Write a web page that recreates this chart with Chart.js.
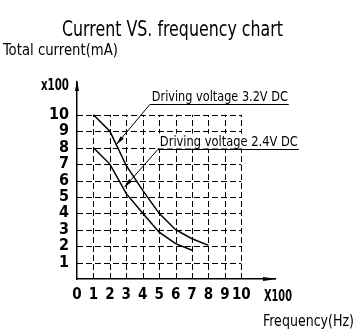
<!DOCTYPE html>
<html>
<head>
<meta charset="utf-8">
<script src="https://cdn.jsdelivr.net/npm/chart.js@4.4.1/dist/chart.umd.min.js"></script>
<style>
  html, body { margin: 0; padding: 0; background: #fff; }
  #wrap { width: 355px; height: 335px; }
</style>
</head>
<body>
<div id="wrap"><canvas id="chart"></canvas></div>
<script>
// values (x100 Hz / x100 mA)
const freq32 = [1, 2, 3, 4, 5, 6, 7, 8];
const current32 = [10, 9, 6.9, 5.4, 4, 3, 2.45, 2.05];
const freq24 = [1, 2, 3, 4, 5, 6, 7];
const current24 = [8, 7, 5.2, 4, 2.85, 2.15, 1.75];
const gridValues = [1, 2, 3, 4, 5, 6, 7, 8, 9, 10];

const FONT = '"DejaVu Sans Condensed", "DejaVu Sans", sans-serif';

// callout label, its underline start (data units) and the point its arrow hits
const notes = [
    { text: 'Driving voltage 3.2V DC', at: [4.43, 10.68], tip: [2.4, 8.2], width: 138 },
    { text: 'Driving voltage 2.4V DC', at: [4.92, 7.91], tip: [2.9, 5.6], width: 140 }
];

const toPoints = (xs, ys) => xs.map((x, i) => ({ x: x, y: ys[i] }));

// draw text squeezed horizontally to a given width (the original face is very narrow)
function fitText(ctx, text, x, y, width) {
    const w = ctx.measureText(text).width;
    ctx.save();
    ctx.translate(x, y);
    ctx.scale(width / w, 1);
    ctx.fillText(text, 0, 0);
    ctx.restore();
}

const decorations = {
    id: 'decorations',
    beforeDatasetsDraw(chart) {
        const ctx = chart.ctx;
        const x = chart.scales.x, y = chart.scales.y;
        ctx.save();
        ctx.strokeStyle = '#000';
        ctx.lineWidth = 1;
        ctx.setLineDash([6, 3]);
        gridValues.forEach(v => {
            const gx = Math.round(x.getPixelForValue(v)) + 0.5;
            ctx.beginPath();
            ctx.moveTo(gx, y.getPixelForValue(0));
            ctx.lineTo(gx, y.getPixelForValue(10));
            ctx.stroke();
            const gy = Math.round(y.getPixelForValue(v)) + 0.5;
            ctx.beginPath();
            ctx.moveTo(x.getPixelForValue(0), gy);
            ctx.lineTo(x.getPixelForValue(10), gy);
            ctx.stroke();
        });
        ctx.restore();
    },
    afterDraw(chart) {
        const ctx = chart.ctx;
        const x = chart.scales.x, y = chart.scales.y;
        const area = chart.chartArea;
        ctx.save();
        ctx.fillStyle = '#000';
        ctx.strokeStyle = '#000';

        // axis arrow heads
        ctx.beginPath();
        ctx.moveTo(area.left, area.top - 2);
        ctx.lineTo(area.left - 2, area.top + 9);
        ctx.lineTo(area.left + 2, area.top + 9);
        ctx.closePath();
        ctx.fill();
        ctx.beginPath();
        ctx.moveTo(area.right + 2, area.bottom);
        ctx.lineTo(area.right - 12, area.bottom - 2);
        ctx.lineTo(area.right - 12, area.bottom + 2);
        ctx.closePath();
        ctx.fill();

        // texts
        ctx.textBaseline = 'alphabetic';
        ctx.textAlign = 'left';
        ctx.font = '21px ' + FONT;
        fitText(ctx, 'Current VS. frequency chart', 62, 36, 221);
        ctx.font = '16px ' + FONT;
        fitText(ctx, 'Total current(mA)', 3, 55, 115);
        ctx.font = 'bold 15px ' + FONT;
        fitText(ctx, 'x100', 41, 90, 28);
        fitText(ctx, 'X100', 264, 301, 28);
        ctx.font = '16px ' + FONT;
        fitText(ctx, 'Frequency(Hz)', 263, 326, 91);

        // callouts
        ctx.font = '14px ' + FONT;
        ctx.lineWidth = 1;
        notes.forEach(n => {
            const tx = x.getPixelForValue(n.at[0]);
            const ty = Math.round(y.getPixelForValue(n.at[1])) + 0.5;
            ctx.fillStyle = '#fff';
            ctx.fillRect(tx + 1, ty - 16, n.width, 15);
            ctx.fillStyle = '#000';
            fitText(ctx, n.text, tx + 2, ty - 4, n.width - 2);
            ctx.beginPath();
            ctx.moveTo(tx, ty);
            ctx.lineTo(tx + n.width + 1, ty);
            ctx.stroke();
            const px = x.getPixelForValue(n.tip[0]);
            const py = y.getPixelForValue(n.tip[1]);
            ctx.beginPath();
            ctx.moveTo(tx, ty);
            ctx.lineTo(px, py);
            ctx.stroke();
            const ang = Math.atan2(py - ty, px - tx);
            ctx.beginPath();
            ctx.moveTo(px, py);
            ctx.lineTo(px - 9 * Math.cos(ang) + 2 * Math.sin(ang), py - 9 * Math.sin(ang) - 2 * Math.cos(ang));
            ctx.lineTo(px - 9 * Math.cos(ang) - 2 * Math.sin(ang), py - 9 * Math.sin(ang) + 2 * Math.cos(ang));
            ctx.closePath();
            ctx.fill();
        });
        ctx.restore();
    }
};

new Chart(document.getElementById('chart'), {
    type: 'line',
    data: {
        datasets: [
            {
                label: 'Driving voltage 3.2V DC',
                data: toPoints(freq32, current32),
                borderColor: '#000',
                borderWidth: 1.5,
                pointRadius: 0,
                tension: 0,
                fill: false
            },
            {
                label: 'Driving voltage 2.4V DC',
                data: toPoints(freq24, current24),
                borderColor: '#000',
                borderWidth: 1.5,
                pointRadius: 0,
                tension: 0,
                fill: false
            }
        ]
    },
    options: {
        responsive: true,
        maintainAspectRatio: false,
        animation: false,
        layout: { padding: { top: 82, right: 80, left: 0, bottom: 0 } },
        plugins: {
            legend: { display: false },
            title: { display: false },
            tooltip: { enabled: false }
        },
        scales: {
            x: {
                type: 'linear',
                min: 0,
                max: 12.05,
                grid: { display: false, drawTicks: false },
                border: { display: true, color: '#000', width: 1.5 },
                ticks: {
                    stepSize: 1,
                    autoSkip: false,
                    maxRotation: 0,
                    padding: 7,
                    color: '#000',
                    font: { family: FONT, size: 15, weight: 'bold' },
                    callback: v => (v <= 10 ? v : '')
                },
                afterFit: scale => { scale.height = 56; }
            },
            y: {
                min: 0,
                max: 12,
                grid: { display: false, drawTicks: false },
                border: { display: true, color: '#000', width: 1.5 },
                ticks: {
                    stepSize: 1,
                    autoSkip: false,
                    padding: 8,
                    color: '#000',
                    font: { family: FONT, size: 16, weight: 'bold' },
                    callback: v => (v >= 1 && v <= 10 ? v : '')
                },
                afterFit: scale => { scale.width = 77; }
            }
        }
    },
    plugins: [decorations]
});
</script>
</body>
</html>
